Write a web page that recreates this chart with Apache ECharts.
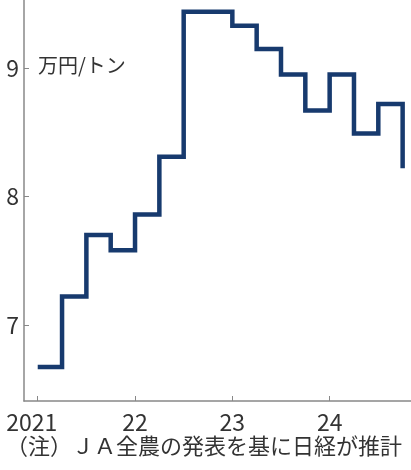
<!DOCTYPE html>
<html>
<head>
<meta charset="utf-8">
<script src="https://cdn.jsdelivr.net/npm/echarts@6/dist/echarts.min.js"></script>
<style>
  html, body { margin: 0; padding: 0; background: #fff; }
  #chart { width: 411px; height: 470px; }
</style>
</head>
<body>
<div id="chart"></div>
<script>
// 四半期ごとの価格（万円/トン）
const quarters = [
  '2021Q1', '2021Q2', '2021Q3', '2021Q4',
  '2022Q1', '2022Q2', '2022Q3', '2022Q4',
  '2023Q1', '2023Q2', '2023Q3', '2023Q4',
  '2024Q1', '2024Q2', '2024Q3', '2024Q4'
]
const prices = [
  6.67, 7.22, 7.70, 7.58,
  7.86, 8.31, 9.44, 9.44,
  9.33, 9.15, 8.95, 8.67,
  8.95, 8.49, 8.72, 8.22
]
const yearTicks = [2021, 2022, 2023, 2024]
const yearLabels = ['2021', '22', '23', '24']
const priceTicks = [7, 8, 9]

const font = '"Noto Sans CJK JP", "Noto Sans", sans-serif'

// 'YYYYQn' → 年の小数値
const toX = q => Number(q.slice(0, 4)) + (Number(q.slice(5)) - 1) * 0.25
const seriesData = quarters.map((q, i) => [toX(q), prices[i]])

const chart = echarts.init(document.getElementById('chart'))
chart.setOption({
  animation: false,
  title: {
    text: '万円/トン',
    left: 33,
    top: 50,
    textStyle: { fontFamily: font, fontSize: 20, fontWeight: 'normal', color: '#333' }
  },
  graphic: [{
    type: 'text',
    left: 6,
    top: 435,
    style: {
      text: '（注）ＪＡ全農の発表を基に日経が推計',
      font: '22px ' + font,
      fill: '#333'
    }
  }],
  grid: { left: 24, right: 0, top: 0, bottom: 69 },
  xAxis: {
    type: 'value',
    min: 2020.859,
    max: 2024.836,
    axisLine: { show: true, lineStyle: { color: '#888', width: 1.5 } },
    axisTick: {
      show: true, inside: true, length: 5,
      customValues: yearTicks,
      lineStyle: { color: '#888' }
    },
    axisLabel: {
      customValues: yearTicks,
      formatter: v => {
        const s = yearLabels[yearTicks.indexOf(Math.round(v))] || ''
        return s.length > 2 ? '{first|' + s + '}' : s
      },
      rich: {
        first: { fontFamily: font, fontSize: 23, color: '#333', padding: [0, 12, 0, 0] }
      },
      margin: 10,
      fontFamily: font,
      fontSize: 23,
      color: '#333'
    },
    splitLine: { show: false }
  },
  yAxis: {
    type: 'value',
    min: 6.406,
    max: 9.531,
    axisLine: { show: true, lineStyle: { color: '#888', width: 1.5 } },
    axisTick: {
      show: true, inside: true, length: 5,
      customValues: priceTicks,
      lineStyle: { color: '#888' }
    },
    axisLabel: {
      customValues: priceTicks,
      margin: 5,
      fontFamily: font,
      fontSize: 23,
      color: '#333'
    },
    splitLine: { show: false }
  },
  series: [{
    type: 'line',
    step: 'end',
    data: seriesData,
    symbol: 'none',
    lineStyle: { color: '#173a6e', width: 4.5, join: 'miter', cap: 'butt' }
  }]
})
</script>
</body>
</html>
